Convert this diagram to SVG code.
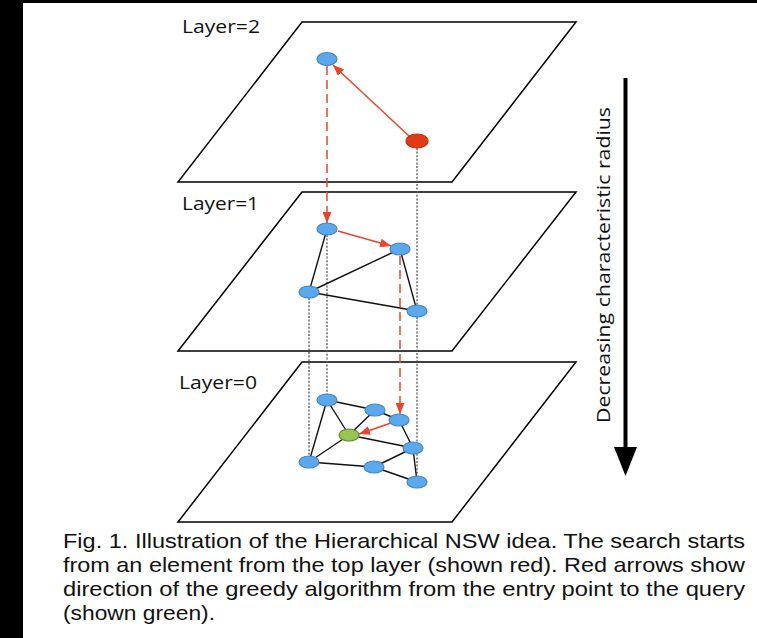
<svg xmlns="http://www.w3.org/2000/svg" width="757" height="638" viewBox="0 0 757 638">
<style>
.plane{fill:none;stroke:#000;stroke-width:1.5}
.lbl{font-family:"Open Sans","Noto Sans",sans-serif;font-size:19px;fill:#111}
.cap{font-family:"Liberation Sans",Arial,sans-serif;font-size:21px;fill:#111}
.blue{fill:#5BA8EC;stroke:#3F86CC;stroke-width:1.2}
.red{fill:#E03A16;stroke:#C0300F;stroke-width:1.2}
.green{fill:#98C454;stroke:#5E8F2E;stroke-width:1.2}
.edge{stroke:#111;stroke-width:1.4;fill:none}
.dot{stroke:#555;stroke-width:1.3;stroke-dasharray:2 1.6;fill:none}
.rdash{stroke:#E8452A;stroke-width:1.5;stroke-dasharray:9 5;fill:none}
.rarrow{stroke:#E8452A;stroke-width:1.5;fill:none}
</style>
<defs>
<marker id="rh" markerUnits="userSpaceOnUse" markerWidth="11" markerHeight="9" refX="11" refY="4.5" orient="auto">
<path d="M0,0 L11,4.5 L0,9 z" fill="#E8452A"/>
</marker>
</defs>
<rect x="0" y="0" width="757" height="638" fill="#fff"/>
<rect x="0" y="0" width="23" height="638" fill="#000"/>
<rect x="0" y="0" width="757" height="3" fill="#000"/>

<g id="layer2">
<polygon class="plane" points="302,22 576,22 452,182 178,182"/>
<text class="lbl" x="182" y="33" textLength="78" lengthAdjust="spacingAndGlyphs">Layer=2</text>
</g>
<g id="layer1">
<polygon class="plane" points="302,192 576,192 452,351 178,351"/>
<text class="lbl" x="182" y="210" textLength="77" lengthAdjust="spacingAndGlyphs">Layer=1</text>
</g>
<g id="layer0">
<polygon class="plane" points="302,362 576,362 452,522 178,522"/>
<text class="lbl" x="179" y="389" textLength="78" lengthAdjust="spacingAndGlyphs">Layer=0</text>
</g>

<g id="connectors">
<line class="dot" x1="417" y1="148" x2="417" y2="305"/>
<line class="dot" x1="327" y1="235" x2="327" y2="394"/>
<line class="dot" x1="309" y1="298" x2="309" y2="456"/>
<line class="dot" x1="417" y1="317" x2="417" y2="476"/>
<line class="rdash" x1="327" y1="66" x2="327" y2="223" marker-end="url(#rh)"/>
<line class="rdash" x1="400" y1="256" x2="400" y2="414" marker-end="url(#rh)"/>
<line class="edge" x1="327" y1="229" x2="309" y2="292"/>
<line class="edge" x1="400" y1="249" x2="309" y2="292"/>
<line class="edge" x1="400" y1="249" x2="417" y2="311"/>
<line class="edge" x1="309" y1="292" x2="417" y2="311"/>
<line class="edge" x1="327" y1="400" x2="375" y2="410"/>
<line class="edge" x1="327" y1="400" x2="349" y2="435"/>
<line class="edge" x1="327" y1="400" x2="309" y2="462"/>
<line class="edge" x1="375" y1="410" x2="399" y2="420"/>
<line class="edge" x1="375" y1="410" x2="349" y2="435"/>
<line class="edge" x1="399" y1="420" x2="413" y2="448"/>
<line class="edge" x1="349" y1="435" x2="413" y2="448"/>
<line class="edge" x1="349" y1="435" x2="309" y2="462"/>
<line class="edge" x1="309" y1="462" x2="374" y2="467"/>
<line class="edge" x1="374" y1="467" x2="413" y2="448"/>
<line class="edge" x1="374" y1="467" x2="417" y2="482"/>
<line class="edge" x1="413" y1="448" x2="417" y2="482"/>
<line class="rarrow" x1="409" y1="136" x2="333" y2="65" marker-end="url(#rh)"/>
<line class="rarrow" x1="338" y1="231" x2="391" y2="246" marker-end="url(#rh)"/>
<line class="rarrow" x1="391" y1="423" x2="359" y2="434" marker-end="url(#rh)"/>
</g>

<g id="n2a"><ellipse class="blue" cx="327" cy="59" rx="10" ry="6.5"/></g>
<g id="n2b"><ellipse class="red" cx="417" cy="141" rx="11" ry="7"/></g>

<g id="n1a"><ellipse class="blue" cx="327" cy="229" rx="10" ry="6"/></g>
<g id="n1b"><ellipse class="blue" cx="400" cy="249" rx="10" ry="6"/></g>
<g id="n1c"><ellipse class="blue" cx="309" cy="292" rx="10" ry="6"/></g>
<g id="n1d"><ellipse class="blue" cx="417" cy="311" rx="10" ry="6"/></g>

<g id="n0a"><ellipse class="blue" cx="327" cy="400" rx="10" ry="6"/></g>
<g id="n0b"><ellipse class="blue" cx="375" cy="410" rx="10" ry="6"/></g>
<g id="n0c"><ellipse class="blue" cx="399" cy="420" rx="10" ry="6"/></g>
<g id="n0g"><ellipse class="green" cx="349" cy="435" rx="10" ry="6"/></g>
<g id="n0e"><ellipse class="blue" cx="413" cy="448" rx="10" ry="6"/></g>
<g id="n0f"><ellipse class="blue" cx="309" cy="462" rx="10" ry="6"/></g>
<g id="n0h"><ellipse class="blue" cx="374" cy="467" rx="10" ry="6"/></g>
<g id="n0i"><ellipse class="blue" cx="417" cy="482" rx="10" ry="6"/></g>

<g id="radius-axis">
<line x1="625.5" y1="78" x2="625.5" y2="450" stroke="#000" stroke-width="4"/>
<polygon points="614,447 637,447 625.5,476" fill="#000"/>
<text class="lbl" transform="translate(610,423) rotate(-90)" textLength="316" lengthAdjust="spacingAndGlyphs">Decreasing characteristic radius</text>
</g>

<g id="caption">
<text class="cap" x="63" y="548" textLength="682" lengthAdjust="spacingAndGlyphs">Fig. 1. Illustration of the Hierarchical NSW idea. The search starts</text>
<text class="cap" x="63" y="572" textLength="682" lengthAdjust="spacingAndGlyphs">from an element from the top layer (shown red). Red arrows show</text>
<text class="cap" x="63" y="596" textLength="682" lengthAdjust="spacingAndGlyphs">direction of the greedy algorithm from the entry point to the query</text>
<text class="cap" x="63" y="620" textLength="152" lengthAdjust="spacingAndGlyphs">(shown green).</text>
</g>
</svg>
